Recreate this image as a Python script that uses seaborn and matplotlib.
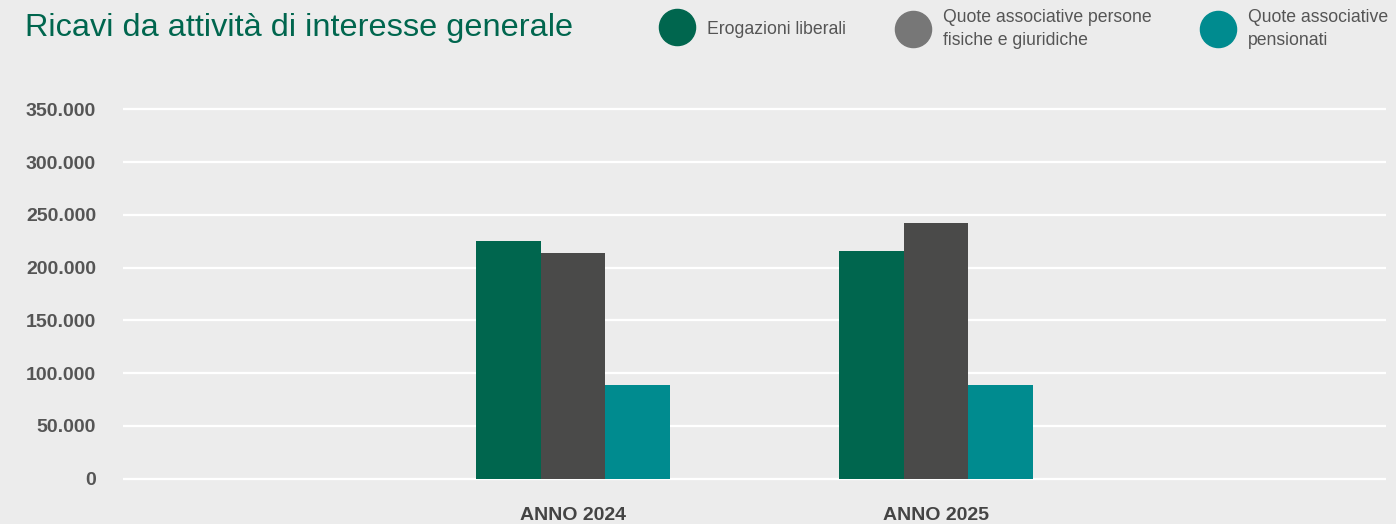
import matplotlib
matplotlib.use("Agg")
import matplotlib.pyplot as plt
from matplotlib import font_manager
from matplotlib.lines import Line2D
from matplotlib.ticker import FuncFormatter
import pandas as pd
import seaborn as sns

# data
anni = ["ANNO 2024", "ANNO 2025"]
serie = ["Erogazioni liberali",
         "Quote associative persone\nfisiche e giuridiche",
         "Quote associative\npensionati"]
erogazioni = [225500, 216000]
quote_persone = [214000, 242500]
quote_pensionati = [89000, 89000]
y_ticks = [0, 50000, 100000, 150000, 200000, 250000, 300000, 350000]

bar_colors = ["#00664e", "#4a4a49", "#008b8f"]
legend_colors = ["#00664e", "#777777", "#008b8f"]
BG = "#ececec"
TXT = "#555555"

installed = {f.name for f in font_manager.fontManager.ttflist}
narrow = "Liberation Sans Narrow" if "Liberation Sans Narrow" in installed else "Liberation Sans"

sns.set_style("white")
plt.rcParams["font.family"] = [narrow, "DejaVu Sans"]

df = pd.DataFrame({
    "anno": anni * 3,
    "serie": [serie[0]] * 2 + [serie[1]] * 2 + [serie[2]] * 2,
    "valore": erogazioni + quote_persone + quote_pensionati,
})

fig = plt.figure(figsize=(13.96, 5.24), dpi=100, facecolor=BG)
ax = fig.add_axes([122.5 / 1396, 34 / 524, 1263.5 / 1396, 390 / 524])
ax.set_facecolor(BG)

sns.barplot(data=df, x="anno", y="valore", hue="serie", hue_order=serie,
            palette=bar_colors, width=0.533, saturation=1, legend=False,
            errorbar=None, ax=ax, zorder=3, linewidth=0)

ax.set_xlim(-1.241, 2.240)
ax.set_ylim(-10700, 358800)
ax.set_yticks(y_ticks)
ax.yaxis.set_major_formatter(FuncFormatter(lambda v, p: f"{v:,.0f}".replace(",", ".")))
ax.grid(axis="y", color="white", linewidth=1.6, zorder=0)
ax.set_axisbelow(True)
for s in ax.spines.values():
    s.set_visible(False)
ax.tick_params(axis="both", length=0)
ax.tick_params(axis="y", pad=19, labelsize=14, labelcolor=TXT)
ax.tick_params(axis="x", pad=12, labelsize=14, labelcolor="#444444")
for lbl in ax.get_yticklabels() + ax.get_xticklabels():
    lbl.set_fontweight("bold")
ax.set_xlabel("")
ax.set_ylabel("")

fig.text(25 / 1396, 1 - 28 / 524, "Ricavi da attività di interesse generale",
         color="#00664e", fontsize=23.4, va="center", ha="left")

# three single-entry legends, placed like in the reference
leg_x = [666, 902, 1207]
for lab, col, x in zip(serie, legend_colors, leg_x):
    h = Line2D([], [], marker="o", linestyle="", markersize=26, color=col)
    leg = fig.legend([h], [lab], loc="center left", bbox_to_anchor=(x / 1396, 1 - 29 / 524),
                     frameon=False, fontsize=12.7, labelcolor=TXT, borderpad=0,
                     borderaxespad=0, handlelength=1.3, handletextpad=1.0)
    for t in leg.get_texts():
        t.set_linespacing(1.45)

fig.savefig("out.png", dpi=100, facecolor=BG)
